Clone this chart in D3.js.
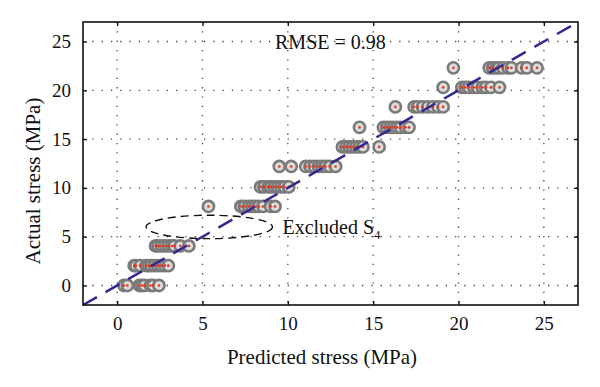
<!DOCTYPE html>
<html>
<head>
<meta charset="utf-8">
<script src="https://cdn.jsdelivr.net/npm/d3@7"></script>
<style>
  body { margin: 0; background: #fff; }
  text { font-family: "Liberation Serif", "DejaVu Serif", serif; fill: #111; }
</style>
</head>
<body>
<script>
// Define SVG area dimensions
var svgWidth = 600;
var svgHeight = 387;

// Plot box
var chartMargin = { top: 22, right: 22, bottom: 82, left: 83 };
var chartWidth = svgWidth - chartMargin.left - chartMargin.right;
var chartHeight = svgHeight - chartMargin.top - chartMargin.bottom;

// Data: actual stress levels and predicted values on each level
var actualLevels = [0, 2.03, 4.05, 8.1, 10.1, 12.2, 14.2, 16.2, 18.3, 20.3, 22.3];
var predictedByLevel = [
  [0.4, 0.6, 1.3, 1.45, 1.6, 1.95, 2.1, 2.45],
  [1.0, 1.1, 1.35, 1.7, 1.85, 2.0, 2.2, 2.4, 2.6, 2.8, 3.0],
  [2.25, 2.4, 2.6, 2.8, 3.0, 3.2, 3.35, 3.7, 4.2],
  [5.35, 7.25, 7.45, 7.7, 7.9, 8.1, 8.3, 8.55, 9.0, 9.25],
  [8.4, 8.6, 8.85, 9.0, 9.2, 9.4, 9.6, 9.8, 10.05],
  [9.5, 10.2, 11.05, 11.3, 11.55, 11.8, 12.0, 12.2, 12.45, 12.8],
  [13.2, 13.4, 13.6, 13.8, 14.0, 14.2, 14.4, 15.35],
  [14.2, 15.6, 15.8, 16.0, 16.2, 16.4, 16.6, 16.9, 17.1],
  [16.3, 17.4, 17.6, 17.9, 18.2, 18.5, 18.8, 19.1],
  [19.1, 20.2, 20.4, 20.6, 20.9, 21.1, 21.4, 21.6, 21.9, 22.4],
  [19.7, 21.8, 22.0, 22.2, 22.35, 22.6, 22.9, 23.1, 23.7, 24.0, 24.6]
];
var tickValues = [0, 5, 10, 15, 20, 25];
var axisDomain = [-2, 27];
var rmse = 0.98;
// excluded set S4 (center and half-widths, data units)
var excluded = { x: 5.4, y: 6.0, rx: 3.7, ry: 1.2 };

var points = [];
actualLevels.forEach(function(a, i) {
  predictedByLevel[i].forEach(function(p) {
    points.push({ predicted: p, actual: a });
  });
});

var svg = d3.select("body")
  .append("svg")
  .attr("width", svgWidth)
  .attr("height", svgHeight);

var chartGroup = svg.append("g")
  .attr("transform", `translate(${chartMargin.left}, ${chartMargin.top})`);

var xScale = d3.scaleLinear().domain(axisDomain).range([0, chartWidth]);
var yScale = d3.scaleLinear().domain(axisDomain).range([chartHeight, 0]);

// dotted grid
chartGroup.append("g")
  .selectAll("line.gx")
  .data(tickValues)
  .join("line")
  .attr("x1", d => xScale(d)).attr("x2", d => xScale(d))
  .attr("y1", 0).attr("y2", chartHeight)
  .attr("stroke", "#444").attr("stroke-width", 1.3)
  .attr("stroke-dasharray", "1.3,8");

chartGroup.append("g")
  .selectAll("line.gy")
  .data(tickValues)
  .join("line")
  .attr("y1", d => yScale(d)).attr("y2", d => yScale(d))
  .attr("x1", 0).attr("x2", chartWidth)
  .attr("stroke", "#444").attr("stroke-width", 1.3)
  .attr("stroke-dasharray", "1.3,8");

// markers
chartGroup.append("g")
  .selectAll("circle")
  .data(points)
  .join("circle")
  .attr("cx", d => xScale(d.predicted))
  .attr("cy", d => yScale(d.actual))
  .attr("r", 5.6)
  .attr("fill", "#dcdcdc")
  .attr("stroke", "#7a7a7a")
  .attr("stroke-width", 2.6);

chartGroup.append("g")
  .selectAll("circle")
  .data(points)
  .join("circle")
  .attr("cx", d => xScale(d.predicted))
  .attr("cy", d => yScale(d.actual))
  .attr("r", 1.3)
  .attr("fill", "#e8321a");

// y = x reference line
chartGroup.append("path")
  .attr("d", d3.line().x(d => xScale(d)).y(d => yScale(d))(axisDomain))
  .attr("fill", "none")
  .attr("stroke", "#33288f")
  .attr("stroke-width", 2.5)
  .attr("stroke-dasharray", "16,10");

// excluded ellipse
chartGroup.append("ellipse")
  .attr("cx", xScale(excluded.x))
  .attr("cy", yScale(excluded.y))
  .attr("rx", xScale(excluded.rx) - xScale(0))
  .attr("ry", yScale(0) - yScale(excluded.ry))
  .attr("fill", "none")
  .attr("stroke", "#111")
  .attr("stroke-width", 1.4)
  .attr("stroke-dasharray", "8,5");

// axes, inward ticks on all sides
function styleAxis(g) {
  g.select(".domain").remove();
  g.selectAll(".tick line").attr("stroke", "#111").attr("stroke-width", 1.4);
  g.selectAll(".tick text").style("font-size", "19px").attr("fill", "#111");
}
chartGroup.append("g")
  .attr("transform", `translate(0, ${chartHeight})`)
  .call(d3.axisBottom(xScale).tickValues(tickValues).tickSizeInner(-4).tickSizeOuter(0).tickPadding(12))
  .call(styleAxis);
chartGroup.append("g")
  .call(d3.axisTop(xScale).tickValues(tickValues).tickSizeInner(-4).tickSizeOuter(0).tickFormat(""))
  .call(styleAxis);
chartGroup.append("g")
  .call(d3.axisLeft(yScale).tickValues(tickValues).tickSizeInner(-4).tickSizeOuter(0).tickPadding(12))
  .call(styleAxis);
chartGroup.append("g")
  .attr("transform", `translate(${chartWidth}, 0)`)
  .call(d3.axisRight(yScale).tickValues(tickValues).tickSizeInner(-4).tickSizeOuter(0).tickFormat(""))
  .call(styleAxis);

// frame
chartGroup.append("rect")
  .attr("width", chartWidth).attr("height", chartHeight)
  .attr("fill", "none").attr("stroke", "#111").attr("stroke-width", 1.6);

// annotations
chartGroup.append("text")
  .attr("x", xScale(9.25)).attr("y", yScale(24.2))
  .style("font-size", "20px")
  .text("RMSE = " + rmse.toFixed(2));

var exText = chartGroup.append("text")
  .attr("x", xScale(excluded.x + excluded.rx) + 10)
  .attr("y", yScale(excluded.y) + 7)
  .style("font-size", "20px");
exText.append("tspan").text("Excluded S");
exText.append("tspan").attr("dy", 5).style("font-size", "13px").text("4");

// axis labels
svg.append("text")
  .attr("x", 322).attr("y", 364)
  .attr("text-anchor", "middle")
  .style("font-size", "21px")
  .text("Predicted stress (MPa)");

svg.append("text")
  .attr("transform", "translate(40, 181) rotate(-90)")
  .attr("text-anchor", "middle")
  .style("font-size", "21px")
  .text("Actual stress (MPa)");
</script>
</body>
</html>
